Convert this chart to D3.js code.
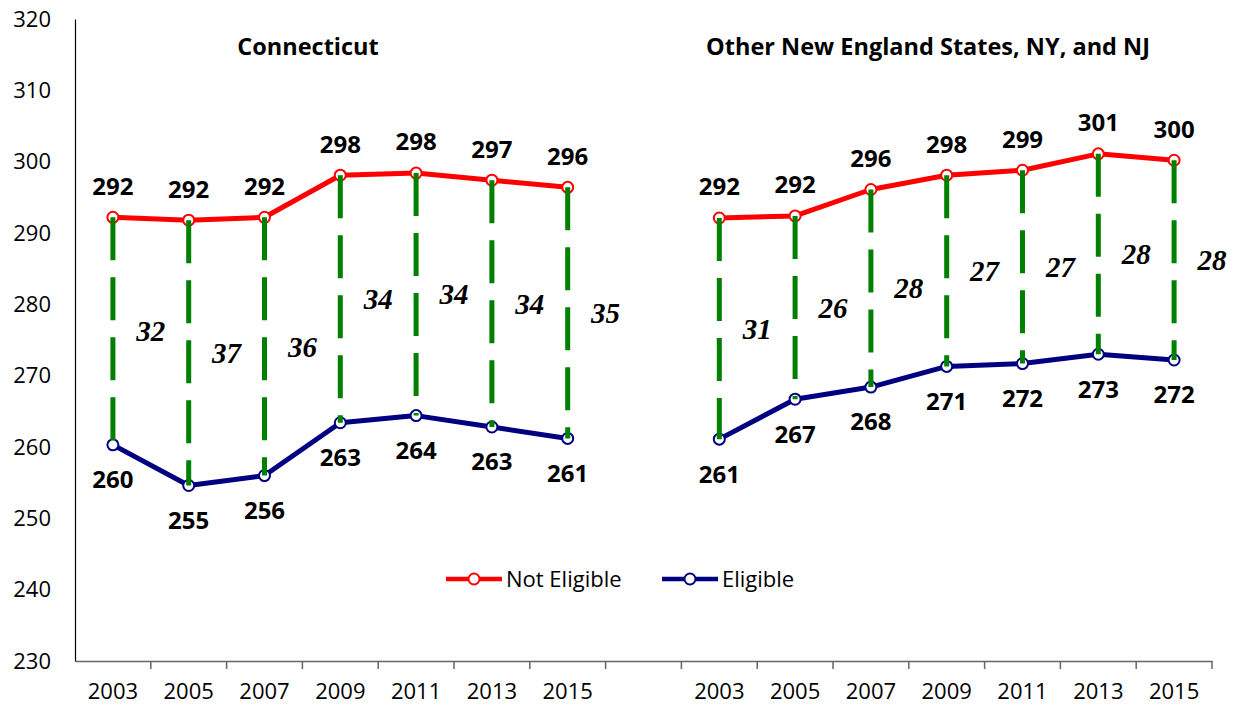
<!DOCTYPE html>
<html lang="en">
<head>
    <meta charset="UTF-8">
    <script src="https://d3js.org/d3.v7.min.js"></script>
    <title>Eligible vs Not Eligible</title>
    <style>
        body { margin: 0; background: #fff; }
        text { font-family: "Open Sans", sans-serif; }
    </style>
</head>
<body>
    <script>
        // data
        const years = ["2003", "2005", "2007", "2009", "2011", "2013", "2015"];
        const ctNotEligible = [292.2, 291.8, 292.2, 298.1, 298.4, 297.4, 296.4];
        const ctEligible = [260.3, 254.6, 256.0, 263.4, 264.4, 262.8, 261.2];
        const ctGap = [32, 37, 36, 34, 34, 34, 35];
        const neNotEligible = [292.1, 292.4, 296.1, 298.1, 298.8, 301.1, 300.2];
        const neEligible = [261.1, 266.7, 268.4, 271.3, 271.7, 273.0, 272.2];
        const neGap = [31, 26, 28, 27, 27, 28, 28];
        const yTicks = [230, 240, 250, 260, 270, 280, 290, 300, 310, 320];
        const groups = ["Connecticut", "Other New England States, NY, and NJ"];
        const seriesNames = ["Not Eligible", "Eligible"];

        const width = 1239;
        const height = 706;
        const margin = {top: 19, right: 27, bottom: 45, left: 75};

        const red = "#ff0000", navy = "#000080", green = "#008000";

        // build one long category axis: CT years, a blank slot, other years
        const keys = years.map(y => "ct" + y).concat(["gap"], years.map(y => "ne" + y));
        const rows = [];
        years.forEach((yr, i) => rows.push({key: "ct" + yr, year: yr, hi: ctNotEligible[i], lo: ctEligible[i], gap: ctGap[i], grp: 0}));
        years.forEach((yr, i) => rows.push({key: "ne" + yr, year: yr, hi: neNotEligible[i], lo: neEligible[i], gap: neGap[i], grp: 1}));

        const x = d3.scaleBand()
            .domain(keys)
            .range([margin.left, width - margin.right]);
        const cx = k => x(k) + x.bandwidth() / 2;

        const y = d3.scaleLinear()
            .domain([230, 320])
            .range([height - margin.bottom, margin.top]);

        const svg = d3.select("body").append("svg")
            .attr("width", width)
            .attr("height", height);

        // y axis: line and labels only
        const yAxis = d3.axisLeft(y).tickValues(yTicks).tickSize(0).tickPadding(24);
        const gy = svg.append("g")
            .attr("transform", `translate(${margin.left},0)`)
            .call(yAxis);
        gy.select(".domain").attr("stroke", "#000").attr("stroke-width", 1.2);
        gy.selectAll("text").attr("font-size", 22).attr("fill", "#000")
            .style("font-family", '"Open Sans", sans-serif');

        // x axis: labels at centers, ticks at category boundaries
        const xAxis = d3.axisBottom(x)
            .tickSize(0)
            .tickPadding(22)
            .tickFormat(k => k === "gap" ? "" : k.slice(2));
        const gx = svg.append("g")
            .attr("transform", `translate(0,${y(230)})`)
            .call(xAxis);
        gx.select(".domain").attr("stroke", "#666").attr("stroke-width", 1.5);
        gx.selectAll("text").attr("font-size", 22).attr("fill", "#000")
            .style("font-family", '"Open Sans", sans-serif');
        gx.selectAll(".bound")
            .data(keys.map(k => x(k) + x.bandwidth()))
            .enter().append("line")
            .attr("class", "bound")
            .attr("x1", d => d).attr("x2", d => d)
            .attr("y1", 0).attr("y2", 8)
            .attr("stroke", "#666").attr("stroke-width", 1.5);

        // titles
        svg.selectAll(".title")
            .data(groups).enter()
            .append("text")
            .attr("class", "title")
            .attr("x", (d, i) => i === 0 ? 308 : 928)
            .attr("y", 55)
            .attr("text-anchor", "middle")
            .attr("font-size", 23.5)
            .attr("font-weight", "bold")
            .text(d => d);

        const line = acc => d3.line().x(d => cx(d.key)).y(d => y(acc(d)));

        [0, 1].forEach(g => {
            const part = rows.filter(r => r.grp === g);
            svg.append("path").datum(part)
                .attr("d", line(d => d.hi))
                .attr("fill", "none").attr("stroke", red).attr("stroke-width", 5)
                .attr("stroke-linejoin", "round");
            svg.append("path").datum(part)
                .attr("d", line(d => d.lo))
                .attr("fill", "none").attr("stroke", navy).attr("stroke-width", 5)
                .attr("stroke-linejoin", "round");
        });

        svg.selectAll(".mhi").data(rows).enter().append("circle")
            .attr("cx", d => cx(d.key)).attr("cy", d => y(d.hi)).attr("r", 5.5)
            .attr("fill", "#fff").attr("stroke", red).attr("stroke-width", 2);
        svg.selectAll(".mlo").data(rows).enter().append("circle")
            .attr("cx", d => cx(d.key)).attr("cy", d => y(d.lo)).attr("r", 5.5)
            .attr("fill", "#fff").attr("stroke", navy).attr("stroke-width", 2);

        // dashed gap lines
        svg.selectAll(".gapline").data(rows).enter().append("line")
            .attr("x1", d => cx(d.key)).attr("x2", d => cx(d.key))
            .attr("y1", d => y(d.hi)).attr("y2", d => y(d.lo))
            .attr("stroke", green).attr("stroke-width", 5)
            .attr("stroke-dasharray", "43,17");

        // value labels
        svg.selectAll(".lhi").data(rows).enter().append("text")
            .attr("x", d => cx(d.key)).attr("y", d => y(d.hi) - 31)
            .attr("dy", "0.35em")
            .attr("text-anchor", "middle").attr("font-size", 24).attr("font-weight", "bold")
            .text(d => Math.round(d.hi));
        svg.selectAll(".llo").data(rows).enter().append("text")
            .attr("x", d => cx(d.key)).attr("y", d => y(d.lo) + 35)
            .attr("dy", "0.35em")
            .attr("text-anchor", "middle").attr("font-size", 24).attr("font-weight", "bold")
            .text(d => Math.round(d.lo));

        svg.selectAll(".lgap").data(rows).enter().append("text")
            .attr("x", d => x(d.key) + x.bandwidth())
            .attr("y", d => (y(d.hi) + y(d.lo)) / 2)
            .attr("dy", "0.35em")
            .attr("text-anchor", "middle")
            .attr("font-size", 29).attr("font-weight", "bold").attr("font-style", "italic")
            .style("font-family", '"Liberation Serif", "Times New Roman", serif')
            .text(d => d.gap);

        // legend
        const legend = svg.append("g").attr("transform", "translate(446,579)");
        [[0, red], [216, navy]].forEach(([dx, c], i) => {
            const g = legend.append("g").attr("transform", `translate(${dx},0)`);
            g.append("line").attr("x1", 0).attr("x2", 56).attr("y1", 0).attr("y2", 0)
                .attr("stroke", c).attr("stroke-width", 4.5);
            g.append("circle").attr("cx", 28).attr("cy", 0).attr("r", 5.5)
                .attr("fill", "#fff").attr("stroke", c).attr("stroke-width", 2);
            g.append("text").attr("x", 60).attr("dy", "0.35em")
                .attr("font-size", 22).text(seriesNames[i]);
        });
    </script>
</body>
</html>
